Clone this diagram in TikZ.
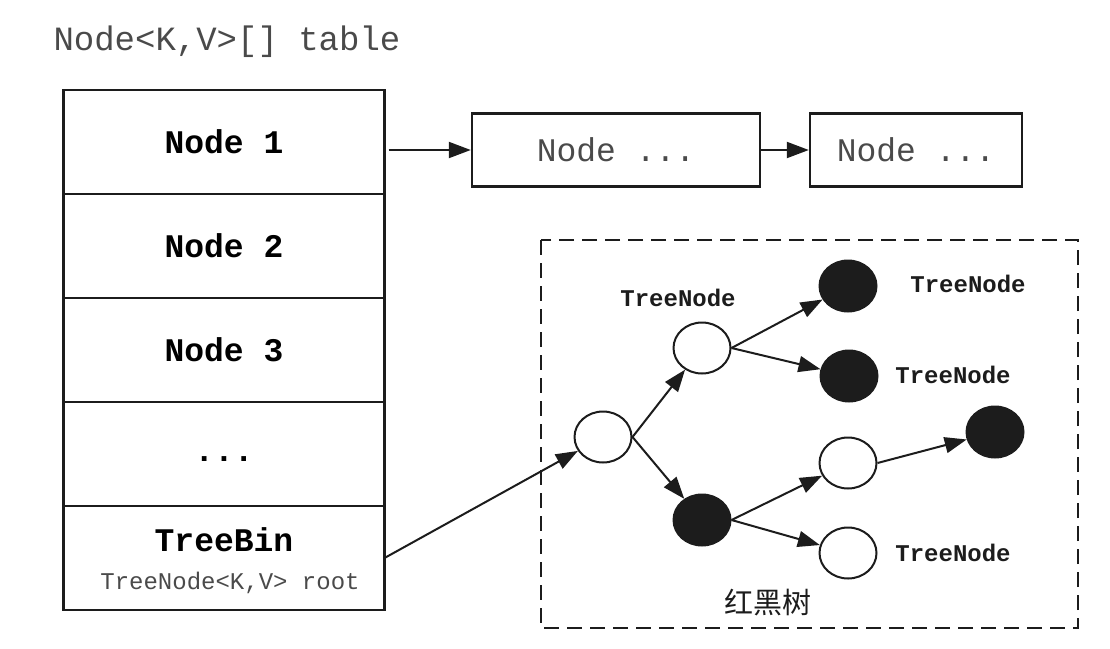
\documentclass[tikz,border=0pt]{standalone}
\usepackage{fontspec}
\setmonofont{Liberation Mono}
\newfontfamily\cjk{Noto Sans CJK SC}
\usetikzlibrary{arrows.meta,positioning,shapes.geometric}

\definecolor{hmink}{HTML}{1C1C1C}
\definecolor{hmgray}{HTML}{4A4A4A}

\begin{document}
\begin{tikzpicture}[
  x=1pt,y=-1pt,
  font=\ttfamily,
  cell/.style={draw=hmink,line width=2.4pt,outer sep=0pt,inner sep=0pt,
    minimum width=321pt,minimum height=104pt,
    font=\ttfamily\bfseries\fontsize{33}{36}\selectfont},
  nextbox/.style={draw=hmink,line width=2.4pt,inner sep=0pt,minimum height=73pt,
    text=hmgray,font=\ttfamily\fontsize{33}{36}\selectfont},
  link/.style={draw=hmink,line width=2pt,-{Triangle[length=22pt,width=16pt]}},
  rbopen/.style={ellipse,draw=hmink,line width=2pt,fill=white,
    minimum width=57pt,minimum height=51pt,inner sep=0pt},
  rbblack/.style={rbopen,fill=hmink},
  tnlab/.style={font=\ttfamily\bfseries\fontsize{24}{26}\selectfont,text=hmink}
]
  \path[use as bounding box] (0,0) rectangle (1110,648);

  % table
  \node[text=hmgray,font=\ttfamily\fontsize{34}{36}\selectfont,anchor=west]
    (title) at (50,42) {Node<K,V>[] table};
  \node[cell] (t1) at (224,142) {Node 1};
  \node[cell,below=0pt of t1] (t2) {Node 2};
  \node[cell,below=0pt of t2] (t3) {Node 3};
  \node[cell,below=0pt of t3] (t4) {\raisebox{-14pt}{...}};
  \node[cell,below=0pt of t4] (t5) {};
  \node[font=\ttfamily\bfseries\fontsize{33}{36}\selectfont] (binname) at (224,540) {TreeBin};
  \node[text=hmgray,font=\ttfamily\fontsize{24}{26}\selectfont] (binroot) at (230,583) {TreeNode<K,V> root};

  % linked list
  \node[nextbox,minimum width=288pt] (nx1) at (616,150) {Node ...};
  \node[nextbox,minimum width=212pt] (nx2) at (916,150) {Node ...};
  \draw[link,shorten <=4pt] (t1.east |- nx1) -- (nx1.west);
  \draw[link] (nx1) -- (nx2);

  % red-black tree
  \draw[hmink,line width=2.2pt,dash pattern=on 15pt off 8pt] (541,240) rectangle (1078,628);
  \node[rbopen] (root) at (603,437) {};
  \node[rbopen] (up) at (702,348) {};
  \node[rbblack] (lo) at (702,520) {};
  \node[rbblack] (upa) at (848,286) {};
  \node[rbblack] (upb) at (849,376) {};
  \node[rbopen] (loa) at (848,463) {};
  \node[rbopen] (lob) at (848,553) {};
  \node[rbblack] (loaa) at (995,432) {};
  \draw[link] (t5.east) -- (root);
  \draw[link] (root.east) -- (up);
  \draw[link] (root.east) -- (lo);
  \draw[link] (up.east) -- (upa);
  \draw[link] (up.east) -- (upb);
  \draw[link] (lo.east) -- (loa);
  \draw[link] (lo.east) -- (lob);
  \draw[link] (loa.east) -- (loaa);
  \node[tnlab] (lab1) at (678,298) {TreeNode};
  \node[tnlab] (lab2) at (968,284) {TreeNode};
  \node[tnlab] (lab3) at (953,375) {TreeNode};
  \node[tnlab] (lab4) at (953,553) {TreeNode};
  \node[font=\cjk\fontsize{29}{30}\selectfont,text=hmink] (rbname) at (768,603) {红黑树};
\end{tikzpicture}
\end{document}
